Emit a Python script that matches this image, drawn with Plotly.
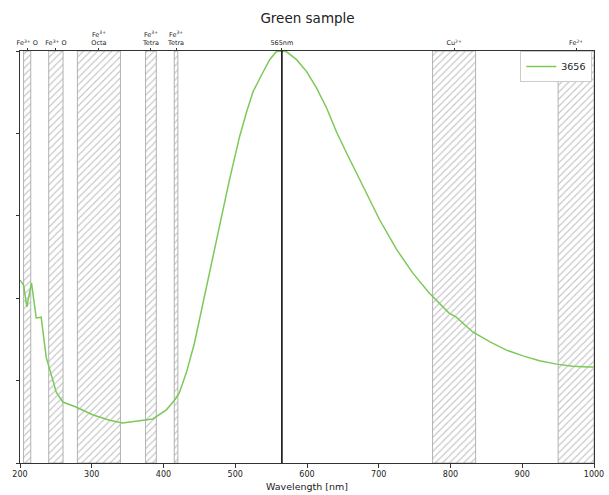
import plotly.graph_objects as go

# Spectrum (normalized)
wavelength = [200, 205, 209.5, 216, 222.6, 229.5, 236.5, 243, 250.5, 259.7, 278, 301, 324.8,
              343, 366.6, 385, 404, 417, 422, 432, 443, 455, 464, 474, 483, 492, 501, 506,
              516, 525, 537, 548, 557, 565, 571.6, 585.5, 599.5, 613, 627, 641, 655, 678,
              701, 725, 747, 770, 785, 798, 808, 831, 855, 878, 901, 924, 948, 970, 993, 1000]
intensity = [0.444, 0.432, 0.379, 0.437, 0.352, 0.354, 0.257, 0.218, 0.172, 0.148, 0.136,
             0.117, 0.104, 0.097, 0.102, 0.107, 0.129, 0.156, 0.170, 0.220, 0.290, 0.385,
             0.462, 0.542, 0.615, 0.688, 0.753, 0.792, 0.853, 0.902, 0.943, 0.979, 0.998,
             1.0, 0.998, 0.979, 0.950, 0.911, 0.863, 0.804, 0.753, 0.671, 0.591, 0.518,
             0.462, 0.413, 0.388, 0.364, 0.354, 0.318, 0.294, 0.274, 0.260, 0.248, 0.240,
             0.235, 0.233, 0.233]

# Absorption bands
band_lo = [205, 240, 280, 375, 415, 775, 950]
band_hi = [215, 260, 340, 390, 420, 835, 1000]

# Top labels
top_pos = [210, 250, 310, 382.5, 417.5, 565, 805, 975]
top_labels = ["Fe<sup>3+</sup> O", "Fe<sup>3+</sup> O", "Fe<sup>3+</sup><br>Octa",
              "Fe<sup>3+</sup><br>Tetra", "Fe<sup>3+</sup><br>Tetra", "565nm",
              "Cu<sup>2+</sup>", "Fe<sup>2+</sup>"]

peak_nm = 565
x_ticks = [200, 300, 400, 500, 600, 700, 800, 900, 1000]

fig = go.Figure()

centers = [(a + b) / 2 for a, b in zip(band_lo, band_hi)]
widths = [b - a for a, b in zip(band_lo, band_hi)]
fig.add_trace(go.Bar(
    x=centers, y=[1] * len(centers), width=widths, base=0,
    marker=dict(color="rgba(255,255,255,0)",
                pattern=dict(shape="/", fgcolor="#8c8c8c", bgcolor="rgba(255,255,255,0)",
                             size=5, solidity=0.22),
                line=dict(color="#a0a0a0", width=0.8)),
    showlegend=False, hoverinfo="skip"))

fig.add_trace(go.Scatter(x=wavelength, y=intensity, mode="lines", name="3656",
                         line=dict(color="#7cc95a", width=1.5)))

# invisible trace for top axis
fig.add_trace(go.Scatter(x=[200, 1000], y=[0, 0], xaxis="x2", mode="markers",
                         marker=dict(opacity=0), showlegend=False, hoverinfo="skip"))

fig.add_shape(type="line", x0=peak_nm, x1=peak_nm, y0=0, y1=1, xref="x", yref="y",
              line=dict(color="black", width=1.5))

fig.update_layout(
    width=609, height=495,
    margin=dict(l=20, r=15, t=51, b=32),
    paper_bgcolor="white", plot_bgcolor="white",
    font=dict(family="DejaVu Sans", color="#222222"),
    barmode="overlay",
    title=dict(text="Green sample", x=0.505, xanchor="center", y=0.9636, yanchor="middle",
               font=dict(size=13.5, color="#222222")),
    xaxis=dict(range=[200, 1000], tickvals=x_ticks, ticks="outside", ticklen=3.5,
               tickcolor="#333", showgrid=False, zeroline=False, showline=True,
               linecolor="#333", linewidth=1, mirror=True, tickfont=dict(size=8),
               automargin=False,
               title=dict(text="Wavelength [nm]", font=dict(size=9.5), standoff=5)),
    xaxis2=dict(range=[200, 1000], overlaying="x", side="top", tickvals=top_pos,
                ticktext=top_labels, ticks="outside", ticklen=2, tickcolor="#333",
                showgrid=False, zeroline=False, tickfont=dict(size=6.5), automargin=False),
    yaxis=dict(range=[0, 1], tickvals=[0, 0.2, 0.4, 0.6, 0.8, 1.0], showticklabels=False,
               ticks="outside", ticklen=3, tickcolor="#333", showgrid=False, zeroline=False,
               showline=True, linecolor="#333", linewidth=1, mirror=True, automargin=False),
    legend=dict(x=0.997, y=1.0, xanchor="right", yanchor="top", bgcolor="white",
                bordercolor="#cccccc", borderwidth=1, font=dict(size=9.5)),
)

fig.write_html("out.html", config={"displayModeBar": False},
               post_script="document.body.style.margin='0';")
